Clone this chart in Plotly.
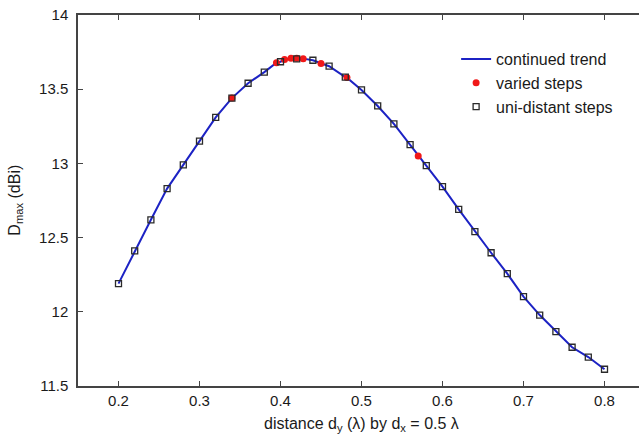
import plotly.graph_objects as go

# uni-distant steps
uni_x = [0.20, 0.22, 0.24, 0.26, 0.28, 0.30, 0.32, 0.34, 0.36, 0.38, 0.40,
         0.42, 0.44, 0.46, 0.48, 0.50, 0.52, 0.54, 0.56, 0.58, 0.60, 0.62,
         0.64, 0.66, 0.68, 0.70, 0.72, 0.74, 0.76, 0.78, 0.80]
uni_y = [12.19, 12.41, 12.62, 12.83, 12.99, 13.15, 13.31, 13.44, 13.54, 13.615, 13.685,
         13.705, 13.695, 13.655, 13.582, 13.495, 13.387, 13.266, 13.126, 12.985, 12.843, 12.69,
         12.54, 12.398, 12.257, 12.102, 11.978, 11.866, 11.761, 11.695, 11.613]

# varied steps
var_x = [0.34, 0.395, 0.405, 0.413, 0.42, 0.428, 0.45, 0.482, 0.57]
var_y = [13.44, 13.678, 13.700, 13.708, 13.708, 13.706, 13.674, 13.578, 13.05]

# continued trend: through all computed points
pts = sorted(set(zip(uni_x, uni_y)) | set(zip(var_x, var_y)))
trend_x = [p[0] for p in pts]
trend_y = [p[1] for p in pts]

x_ticks = [0.2, 0.3, 0.4, 0.5, 0.6, 0.7, 0.8]
y_ticks = [11.5, 12, 12.5, 13, 13.5, 14]

axis_col = "#444444"
font = "Liberation Sans, Arial, sans-serif"

fig = go.Figure()
fig.add_trace(go.Scatter(x=trend_x, y=trend_y, mode="lines", name="continued trend",
                         line=dict(color="#1c22c4", width=2)))
fig.add_trace(go.Scatter(x=var_x, y=var_y, mode="markers", name="varied steps",
                         marker=dict(color="#f01818", size=7, symbol="circle")))
fig.add_trace(go.Scatter(x=uni_x, y=uni_y, mode="markers", name="uni-distant steps",
                         marker=dict(color="#2a2a2a", size=6, symbol="square-open",
                                     line=dict(width=1.3))))

fig.update_layout(
    width=639, height=438,
    margin=dict(l=78, r=0, t=15, b=52),
    paper_bgcolor="white", plot_bgcolor="white",
    font=dict(family=font, size=15, color="#1a1a1a"),
    showlegend=True,
    legend=dict(x=0.674, y=0.927, xanchor="left", yanchor="top",
                bgcolor="rgba(0,0,0,0)", font=dict(size=16),
                tracegroupgap=0, itemwidth=30),
    xaxis=dict(range=[0.15, 0.15 + 561 / 810], tickvals=x_ticks,
               ticktext=[str(v) for v in x_ticks],
               showgrid=False, zeroline=False, showline=True, linecolor=axis_col,
               linewidth=1.5, mirror="ticks", ticks="inside", ticklen=5,
               tickcolor=axis_col, tickfont=dict(size=15)),
    yaxis=dict(range=[11.5, 14], tickvals=y_ticks,
               ticktext=["11.5", "12", "12.5", "13", "13.5", "14"],
               showgrid=False, zeroline=False, showline=True, linecolor=axis_col,
               linewidth=1.5, ticks="inside", ticklen=5, tickcolor=axis_col,
               ticklabelstandoff=5, tickfont=dict(size=15)),
    annotations=[
        dict(text="distance d<sub>y</sub> (λ) by d<sub>x</sub> = 0.5 λ", xref="paper", yref="paper",
             x=(361 - 78) / 561, y=-0.105, xanchor="center", yanchor="middle",
             showarrow=False, font=dict(size=16)),
        dict(text="D<sub>max</sub> (dBi)", xref="paper", yref="paper",
             x=-0.112, y=0.5, xanchor="center", yanchor="middle", textangle=-90,
             showarrow=False, font=dict(size=16)),
    ],
)

fig.write_html("out.html", config={"displayModeBar": False},
               post_script="document.body.style.margin='0';")
